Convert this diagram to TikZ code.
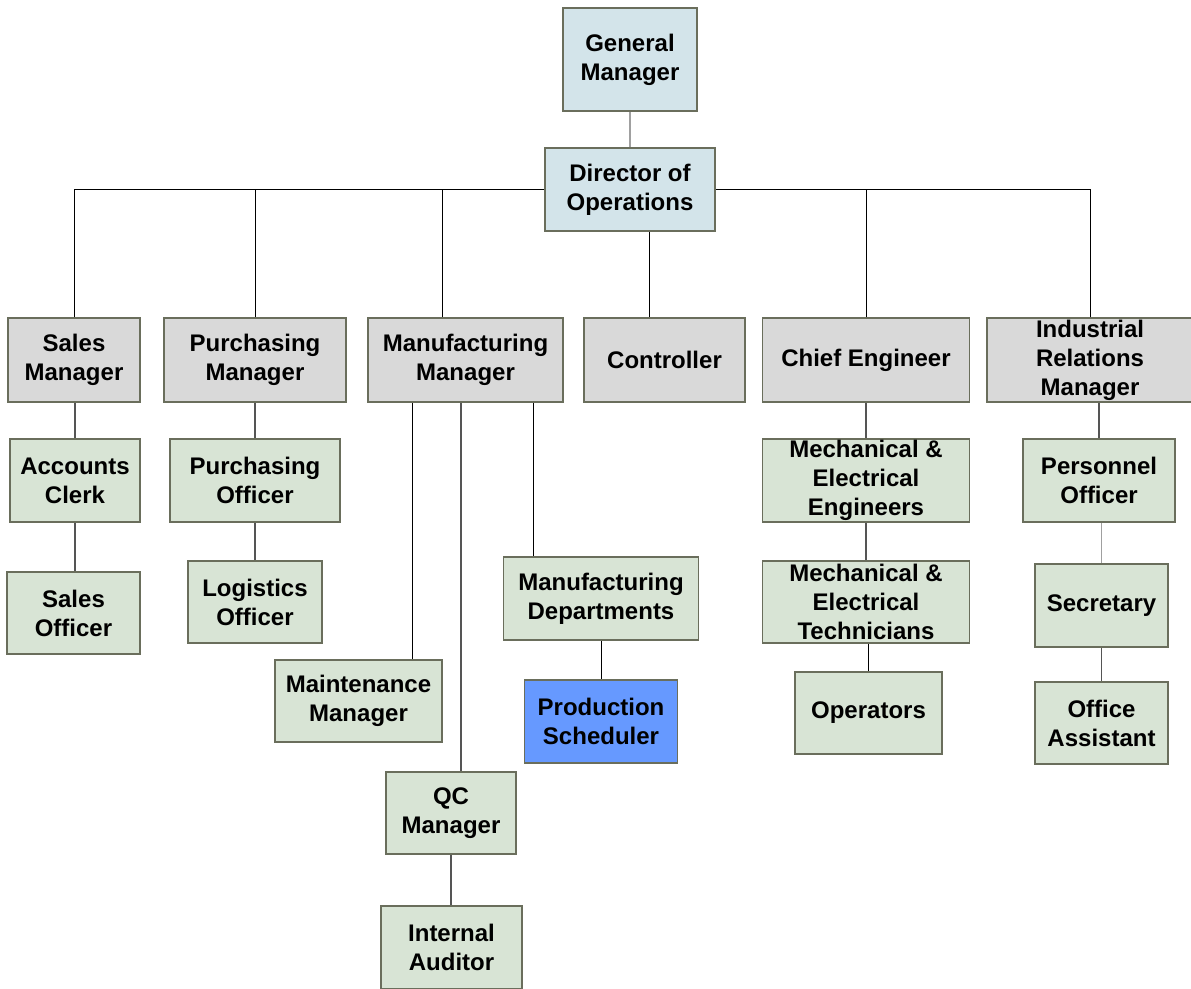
\documentclass[tikz,border=0pt]{standalone}
\usepackage{fontspec}
\setmainfont{Liberation Sans}
\definecolor{bluebox}{HTML}{D3E4EA}
\definecolor{graybox}{HTML}{D9D9D9}
\definecolor{greenbox}{HTML}{D8E4D5}
\definecolor{hilite}{HTML}{6699FF}
\definecolor{edge}{HTML}{6A6E5C}
\definecolor{lnk}{HTML}{555555}
\definecolor{lnklight}{HTML}{A0A0A0}
\begin{document}
\begin{tikzpicture}[x=1pt,y=-1pt,
  box/.style={draw=edge, line width=1.5pt, inner sep=0pt, align=center,
    font=\fontsize{24}{29}\selectfont\bfseries},
  bbox/.style={box, fill=bluebox},
  gbox/.style={box, fill=graybox},
  sbox/.style={box, fill=greenbox},
  hbox/.style={box, fill=hilite},
  bus/.style={draw=black, line width=0.9pt},
  link/.style={draw=lnk, line width=1.4pt},
  linkl/.style={draw=lnklight, line width=1.4pt},
  linkb/.style={draw=black, line width=0.9pt}]
\useasboundingbox (0,0) rectangle (1191,988);
% top
\node[bbox, minimum width=134pt, minimum height=103pt] (gm) at (630,59.5) {General\\Manager};
\node[bbox, minimum width=170pt, minimum height=83pt] (dir) at (630,189.5) {Director of\\Operations};
% managers
\node[gbox, minimum width=132pt, minimum height=84pt] (sales) at (74,360) {Sales\\Manager};
\node[gbox, minimum width=182pt, minimum height=84pt] (purch) at (255,360) {Purchasing\\Manager};
\node[gbox, minimum width=195pt, minimum height=84pt] (mfg) at (465.5,360) {Manufacturing\\Manager};
\node[gbox, minimum width=161pt, minimum height=84pt] (ctrl) at (664.5,360) {Controller};
\node[gbox, minimum width=207pt, minimum height=84pt] (chief) at (866,360) {Chief Engineer};
\node[gbox, minimum width=206pt, minimum height=84pt] (ir) at (1090,360) {Industrial\\Relations\\Manager};
% sales column
\node[sbox, minimum width=130pt, minimum height=83pt] (acc) at (75,480.5) {Accounts\\Clerk};
\node[sbox, minimum width=133pt, minimum height=82pt] (so) at (73.5,613) {Sales\\Officer};
% purchasing column
\node[sbox, minimum width=170pt, minimum height=83pt] (po) at (255,480.5) {Purchasing\\Officer};
\node[sbox, minimum width=134pt, minimum height=82pt] (lo) at (255,602) {Logistics\\Officer};
% manufacturing
\node[sbox, minimum width=195pt, minimum height=83pt] (md) at (601,598.5) {Manufacturing\\Departments};
\node[hbox, minimum width=153pt, minimum height=83pt] (ps) at (601,721.5) {Production\\Scheduler};
\node[sbox, minimum width=167pt, minimum height=82pt] (mm) at (358.5,701) {Maintenance\\Manager};
\node[sbox, minimum width=130pt, minimum height=82pt] (qc) at (451,813) {QC\\Manager};
\node[sbox, minimum width=141pt, minimum height=83pt] (ia) at (451.5,947.5) {Internal\\Auditor};
% engineering
\node[sbox, minimum width=207pt, minimum height=83pt] (me) at (866,480.5) {Mechanical \&\\Electrical\\Engineers};
\node[sbox, minimum width=207pt, minimum height=82pt] (mt) at (866,602) {Mechanical \&\\Electrical\\Technicians};
\node[sbox, minimum width=147pt, minimum height=82pt] (op) at (868.5,713) {Operators};
% industrial relations
\node[sbox, minimum width=152pt, minimum height=83pt] (pe) at (1099,480.5) {Personnel\\Officer};
\node[sbox, minimum width=133pt, minimum height=83pt] (se) at (1101.5,605.5) {Secretary};
\node[sbox, minimum width=133pt, minimum height=82pt] (oa) at (1101.5,723) {Office\\Assistant};
% connector x positions
\coordinate (xmfg) at (442,0);
\coordinate (xctrl) at (649,0);
\coordinate (xmm) at (412,0);
\coordinate (xqc) at (461,0);
\coordinate (xmd) at (533,0);
\coordinate (xop) at (868,0);
\coordinate (xpe) at (1099,0);
\coordinate (xse) at (1101.5,0);
\coordinate (xqa) at (451,0);
% connectors
\draw[linkl] (gm.south) -- (dir.north);
\draw[bus] (sales.north) |- (dir.west);
\draw[bus] (purch.north) |- (dir.west);
\draw[bus] (mfg.north -| xmfg) |- (dir.west);
\draw[bus] (chief.north) |- (dir.east);
\draw[bus] (ir.north) |- (dir.east);
\draw[bus] (dir.south -| xctrl) -- (ctrl.north -| xctrl);
\draw[link] (sales.south -| acc.north) -- (acc.north);
\draw[link] (acc.south) -- (so.north -| acc.south);
\draw[link] (purch.south) -- (po.north);
\draw[link] (po.south) -- (lo.north);
\draw[linkb] (mfg.south -| xmm) -- (mm.north -| xmm);
\draw[link] (mfg.south -| xqc) -- (qc.north -| xqc);
\draw[linkb] (mfg.south -| xmd) -- (md.north -| xmd);
\draw[linkb] (md.south) -- (ps.north);
\draw[link] (qc.south -| xqa) -- (ia.north -| xqa);
\draw[link] (chief.south) -- (me.north);
\draw[link] (me.south) -- (mt.north);
\draw[linkb] (mt.south -| xop) -- (op.north -| xop);
\draw[link] (ir.south -| xpe) -- (pe.north);
\draw[linkl] (pe.south -| xse) -- (se.north);
\draw[link] (se.south) -- (oa.north);
\end{tikzpicture}
\end{document}
